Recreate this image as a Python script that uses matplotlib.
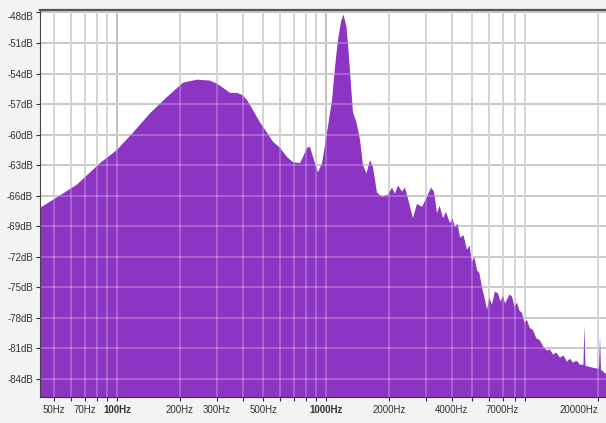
import matplotlib
matplotlib.use("Agg")
from matplotlib import pyplot as plt
from matplotlib.ticker import NullFormatter

# spectrum (Hz, dB)
freq_hz = [42.8, 49.4, 64.4, 82.9, 100, 119.3, 143.9, 173.5, 206.9, 241.4,
           278.6, 301, 321.6, 347.2, 375.2, 396.5, 418.8, 447.4, 483.3, 522.1,
           557.6, 602.6, 651, 695.3, 750.9, 776.2, 811.1, 838.4, 866.6, 915.6,
           957, 1011, 1069, 1104, 1141, 1180, 1213, 1253, 1281, 1317,
           1346, 1399, 1455, 1503, 1562, 1624, 1678, 1754, 1853, 1980,
           2069, 2138, 2210, 2310, 2388, 2468, 2608, 2725, 2880, 3043,
           3180, 3286, 3397, 3500, 3629, 3750, 3921, 4030, 4143, 4260,
           4378, 4550, 4727, 4860, 4995, 5130, 5278, 5420, 5577, 5730,
           5893, 6050, 6228, 6430, 6653, 6840, 7030, 7190, 7346, 7550,
           7762, 7980, 8203, 8430, 8668, 8900, 9157, 9450, 9781, 10150,
           10565, 11000, 11414, 11800, 12195, 12650, 13170, 13700, 14226, 14700,
           15200, 15800, 16420, 17060, 17250, 17440, 18950, 20240, 20470, 20700,
           21870]
level_db = [-67.2, -66.4, -64.9, -62.8, -61.5, -59.8, -57.9, -56.3, -54.9, -54.6,
            -54.7, -55.0, -55.4, -55.9, -55.9, -56.1, -56.6, -57.6, -58.8, -59.8,
            -60.7, -61.3, -62.2, -62.7, -62.8, -62.2, -61.3, -61.2, -62.2, -63.7,
            -62.8, -59.8, -56.6, -53.4, -50.7, -48.9, -48.2, -49.4, -51.7, -55.1,
            -57.8, -58.8, -60.5, -63.0, -63.8, -62.5, -63.2, -65.7, -66.1, -65.9,
            -65.2, -65.8, -65.0, -65.6, -65.2, -66.3, -68.2, -66.8, -67.1, -66.1,
            -65.2, -65.6, -67.7, -67.0, -68.2, -67.6, -68.7, -68.2, -69.1, -68.7,
            -70.1, -69.9, -71.3, -70.9, -72.5, -72.0, -73.3, -73.6, -75.0, -76.0,
            -77.2, -76.0, -76.7, -75.4, -75.6, -76.4, -75.8, -76.6, -76.2, -75.7,
            -75.9, -76.9, -76.5, -77.3, -77.5, -78.5, -78.2, -79.0, -79.2, -80.0,
            -80.2, -80.9, -81.2, -81.1, -81.6, -81.4, -81.9, -81.7, -82.3, -82.0,
            -82.4, -82.2, -82.6, -82.6, -78.7, -82.7, -82.9, -83.0, -79.8, -83.1,
            -83.5]

x_ticks = [50, 70, 100, 200, 300, 500, 1000, 2000, 4000, 7000, 20000]
x_labels = ["50Hz", "70Hz", "100Hz", "200Hz", "300Hz", "500Hz", "1000Hz",
            "2000Hz", "4000Hz", "7000Hz", "20000Hz"]
grid_hz = [50, 60, 70, 80, 90, 100, 200, 300, 400, 500, 600, 700, 800, 900,
           1000, 2000, 3000, 4000, 5000, 6000, 7000, 8000, 9000, 20000]
y_ticks = [-48, -51, -54, -57, -60, -63, -66, -69, -72, -75, -78, -81, -84]

purple = "#8c34c4"

plt.rcParams['font.family'] = ['Liberation Sans', 'DejaVu Sans']

fig = plt.figure(figsize=(6.06, 4.23), dpi=100, facecolor="#f3f3f3")
ax = fig.add_axes([40/606, 26/423, 566/606, 387/423])
ax.set_facecolor("white")

ax.set_xscale("log")
ax.set_xlim(42.8, 21870)
ax.set_ylim(-85.77, -47.76)

# grey grid under the fill
for f in grid_hz:
    c = "#a8a8a8" if f in (100, 1000) else "#c4c4c4"
    ax.axvline(f, color=c, lw=1.3, zorder=1)
for d in y_ticks:
    ax.axhline(d, color="#b4b4b4", lw=1.3, zorder=1)

ax.fill_between(freq_hz, level_db, -90, color=purple, lw=0, zorder=2)

# light grid over the fill
for f in grid_hz:
    ax.axvline(f, color="white", alpha=0.3, lw=1.1, zorder=3)
for d in y_ticks:
    ax.axhline(d, color="white", alpha=0.3, lw=1.1, zorder=3)

ax.set_xticks(x_ticks)
ax.set_xticklabels(x_labels)
ax.set_xticks([f for f in grid_hz if f not in x_ticks], minor=True)
ax.xaxis.set_minor_formatter(NullFormatter())
for lbl in ax.get_xticklabels():
    if lbl.get_text() in ("100Hz", "1000Hz"):
        lbl.set_fontweight("bold")
ax.get_xticklabels()[-1].set_ha("right")

ax.set_yticks(y_ticks)
ax.set_yticklabels([f"{d}dB" for d in y_ticks])
ax.get_yticklabels()[0].set_va("top")

ax.tick_params(axis="both", which="both", labelsize=7, colors="#333333",
               length=3, width=0.8, pad=2)
ax.tick_params(axis="x", which="major", pad=3)

ax.spines["right"].set_visible(False)
ax.spines["left"].set_color("#444444")
ax.spines["bottom"].set_color("#333333")
ax.spines["top"].set_color("#555555")
ax.spines["top"].set_linewidth(1.6)
for s in ax.spines.values():
    s.set_zorder(5)

fig.savefig("out.png", dpi=100, facecolor=fig.get_facecolor())
